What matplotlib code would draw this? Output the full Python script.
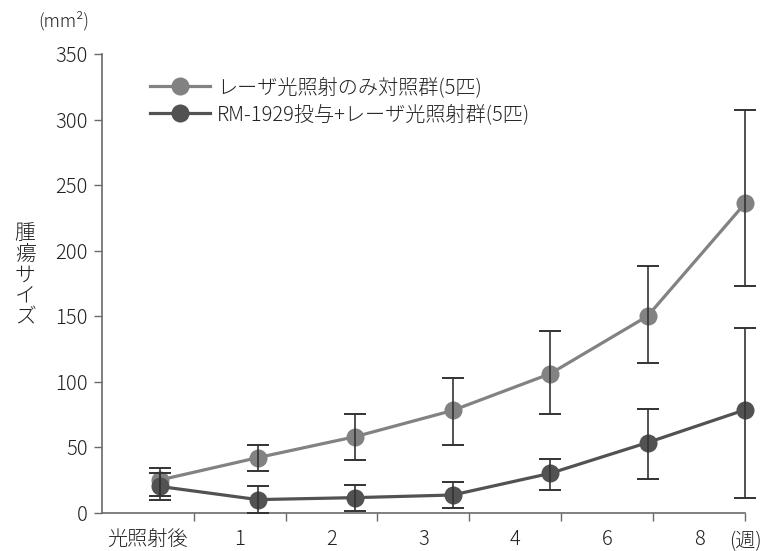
import matplotlib
matplotlib.use('Agg')
import matplotlib.pyplot as plt
import numpy as np

plt.rcParams['font.family'] = ['Noto Sans CJK JP', 'DejaVu Sans']
plt.rcParams['font.weight'] = 'light'

# x categories (weeks after irradiation)
week_labels = ['光照射後', '1', '2', '3', '4', '6', '8']
unit_label = '(週)'

# laser only control group (5 mice)
control_name = 'レーザ光照射のみ対照群(5匹)'
control_mean = [25, 42, 58, 78, 106, 150, 236]
control_upper = [34, 52, 75, 103, 139, 188, 307]
control_lower = [13, 32, 40, 52, 75, 114, 173]

# RM-1929 + laser group (5 mice)
treated_name = 'RM-1929投与+レーザ光照射群(5匹)'
treated_mean = [20, 10, 11.5, 13.5, 30, 53.5, 78.5]
treated_upper = [30.5, 20.5, 21.5, 23.5, 41, 79, 141]
treated_lower = [9.5, 0, 1.5, 3.5, 17.5, 25.5, 11]

y_ticks = [0, 50, 100, 150, 200, 250, 300, 350]

spine_color = '#6a6a6a'
text_color = '#222222'
fs = 14.5

fig = plt.figure(figsize=(7.62, 5.51), dpi=100)
ax = fig.add_axes([0.1335, 0.0695, 0.8442, 0.8325])

x = np.arange(len(week_labels))


def draw_series(mean, lower, upper, color, name):
    mean = np.array(mean)
    err = [mean - np.array(lower), np.array(upper) - mean]
    ax.plot(x, mean, color=color, lw=2.3, marker='o', markersize=13,
            markeredgewidth=0, label=name, zorder=2, clip_on=False)
    ax.errorbar(x, mean, yerr=err, fmt='none', ecolor='#333333',
                elinewidth=1.2, capsize=8, capthick=1.4, zorder=3,
                clip_on=False)


draw_series(control_mean, control_lower, control_upper, '#828282', control_name)
draw_series(treated_mean, treated_lower, treated_upper, '#525252', treated_name)

ax.set_xlim(-0.6, 6.0)
ax.set_ylim(0, 350)
ax.set_xticks([])
ax.set_yticks(y_ticks)
ax.tick_params(axis='y', direction='out', length=6, width=1, color=spine_color,
               labelsize=fs, labelcolor=text_color, pad=4)

for side in ['top', 'right']:
    ax.spines[side].set_visible(False)
for side in ['left', 'bottom']:
    ax.spines[side].set_color(spine_color)
    ax.spines[side].set_linewidth(1.2)

# category axis along the bottom
ax2 = ax.twiny()
ax2.set_xlim(0, len(week_labels))
ax2.xaxis.set_ticks_position('bottom')
ax2.xaxis.set_label_position('bottom')
for side in ax2.spines:
    ax2.spines[side].set_visible(False)
ax2.set_xticks(np.arange(1, len(week_labels) + 1))
ax2.set_xticklabels([''] * (len(week_labels) - 1) + [unit_label])
ax2.set_xticks(np.arange(len(week_labels)) + 0.5, minor=True)
ax2.set_xticklabels(week_labels, minor=True)
ax2.tick_params(axis='x', which='major', direction='out', length=6, width=1,
                color=spine_color, labelsize=fs, labelcolor=text_color, pad=7)
ax2.tick_params(axis='x', which='minor', length=0, labelsize=fs,
                labelcolor=text_color, pad=11.5)

ax.legend(loc='upper left', bbox_to_anchor=(0.178, 0.885), bbox_transform=fig.transFigure,
          frameon=False, fontsize=fs, handlelength=3.0, handletextpad=0.35,
          labelspacing=0.3, labelcolor=text_color, borderpad=0.2)

fig.text(0.033, 0.5, '\n'.join('腫瘍サイズ'), ha='center', va='center',
         fontsize=15, color=text_color, linespacing=0.95)
fig.text(0.05, 0.963, '(mm²)', ha='left', va='center', fontsize=13, color=text_color)

fig.savefig('out.png', dpi=100)
